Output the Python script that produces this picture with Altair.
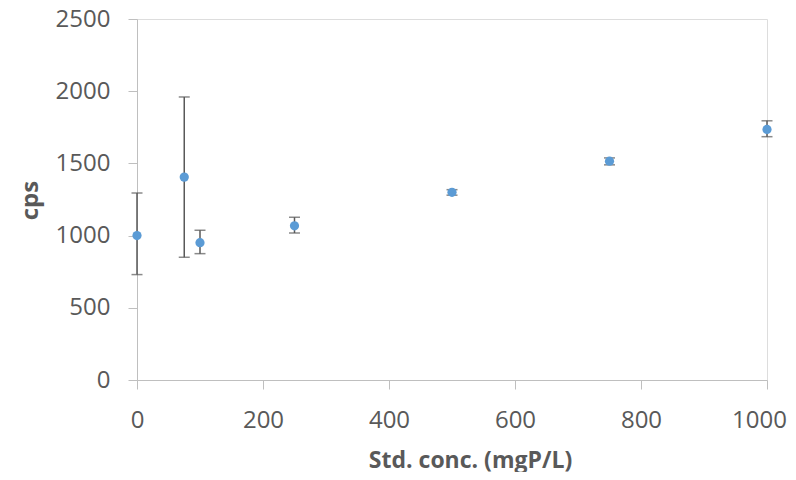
import altair as alt
import pandas as pd

conc = [0, 75, 100, 250, 500, 750, 1000]
cps = [1000, 1405, 951, 1068, 1300, 1515, 1735]
cps_low = [730, 850, 875, 1018, 1280, 1490, 1685]
cps_high = [1295, 1960, 1037, 1127, 1318, 1538, 1795]

df = pd.DataFrame({"conc": conc, "cps": cps, "lo": cps_low, "hi": cps_high})

FONT = "Open Sans"
x_scale = alt.Scale(domain=[0, 1000], nice=False, zero=False)
y_scale = alt.Scale(domain=[0, 2500], nice=False)

base = alt.Chart(df)

err = base.mark_errorbar(ticks=alt.MarkConfig(size=11, strokeWidth=1.5), color="#595959", thickness=1.5).encode(
    x=alt.X("conc:Q", scale=x_scale,
            axis=alt.Axis(title="Std. conc. (mgP/L)", values=[0, 200, 400, 600, 800, 1000], format="d",
                          grid=False, domainColor="#BFBFBF", tickColor="#BFBFBF", tickSize=9,
                          labelFlush=False,
                          labelOffset={"condition": {"test": "datum.value == 1000", "value": -8}, "value": 0},
                          labelFont=FONT, labelFontSize=24, labelColor="#595959", labelPadding=19,
                          titleFont=FONT, titleFontSize=23, titleFontWeight="bold", titleColor="#595959",
                          titleX=333, titleY=80, titleBaseline="middle", titleAlign="center")),
    y=alt.Y("lo:Q", scale=y_scale,
            axis=alt.Axis(title="cps", values=[0, 500, 1000, 1500, 2000, 2500], format="d",
                          grid=False, domainColor="#BFBFBF", tickColor="#BFBFBF", tickSize=9,
                          labelFlush=False,
                          labelFont=FONT, labelFontSize=24, labelColor="#595959", labelPadding=18,
                          titleFont=FONT, titleFontSize=24, titleFontWeight="bold", titleColor="#595959",
                          titleX=-107, titleY=181, titleBaseline="middle", titleAlign="center", titleAngle=270)),
    y2="hi:Q",
)

pts = base.mark_point(filled=True, shape="circle", size=85, color="#5B9BD5", opacity=1).encode(
    x=alt.X("conc:Q", scale=x_scale),
    y=alt.Y("cps:Q", scale=y_scale),
)

chart = (err + pts).properties(
    width=630, height=361,
    autosize=alt.AutoSizeParams(type="none"),
    padding={"left": 129, "top": 11, "right": 20, "bottom": 92},
).configure_view(stroke="#C8C8C8", strokeWidth=1.5).configure(background="white")

chart.save("out.html", embed_options={"renderer": "svg", "actions": False})
